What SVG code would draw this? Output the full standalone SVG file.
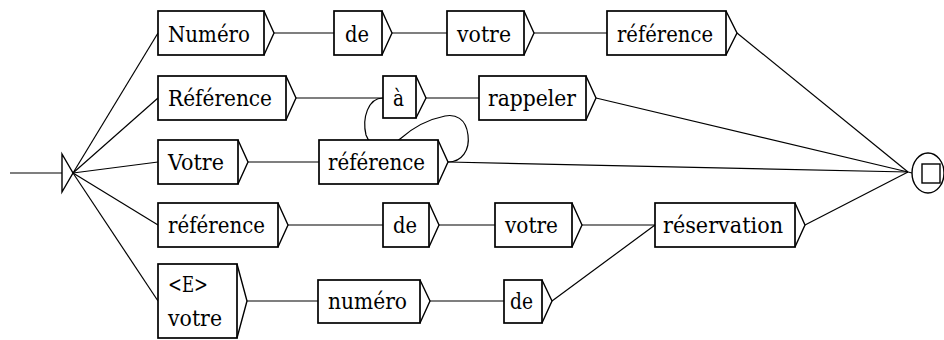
<svg xmlns="http://www.w3.org/2000/svg" width="944" height="340" viewBox="0 0 944 340">
<style>
.b{fill:#fff;stroke:#000;stroke-width:1.7}
.o{fill:none;stroke:#000;stroke-width:1.4}
.c{fill:none;stroke:#000;stroke-width:1.2}
text{font-family:"DejaVu Serif","Liberation Serif",serif;font-size:22px;fill:#000}
</style>
<rect width="944" height="340" fill="#fff"/>
<g id="connectors" class="c">
<line x1="10" y1="173" x2="62" y2="173"/>
<line x1="73" y1="173" x2="158" y2="33"/>
<line x1="73" y1="173" x2="158" y2="98"/>
<line x1="73" y1="173" x2="158" y2="162"/>
<line x1="73" y1="173" x2="158" y2="225"/>
<line x1="73" y1="173" x2="158" y2="301"/>
<line x1="274" y1="33" x2="334" y2="33"/>
<line x1="392" y1="33" x2="447" y2="33"/>
<line x1="534" y1="33" x2="607" y2="33"/>
<line x1="737" y1="33" x2="908" y2="172"/>
<line x1="296" y1="98" x2="383" y2="98"/>
<line x1="426" y1="98" x2="479" y2="98"/>
<line x1="596" y1="98" x2="908" y2="172"/>
<line x1="248" y1="162" x2="319" y2="162"/>
<line x1="448" y1="162" x2="908" y2="172"/>
<path d="M448,162 C462,162 470,150 468,135 C466,118 455,114 445,116 C425,120 410,130 400,139 C390,148 370,148 366,135 C362,118 368,98 383,98"/>
<line x1="288" y1="225" x2="383" y2="225"/>
<line x1="439" y1="225" x2="495" y2="225"/>
<line x1="582" y1="225" x2="655" y2="225"/>
<line x1="805" y1="225" x2="908" y2="172"/>
<line x1="247" y1="301" x2="318" y2="301"/>
<line x1="430" y1="301" x2="504" y2="301"/>
<line x1="552" y1="301" x2="655" y2="225"/>
<line x1="908" y1="172" x2="912" y2="173"/>
</g>
<g id="start"><polygon class="o" points="62,154 73,173 62,192"/></g>
<g id="final"><ellipse class="o" cx="928" cy="173" rx="16" ry="20"/><rect class="o" x="922" y="164" width="18" height="19"/></g>
<g id="n_numero1"><rect class="b" x="158" y="11" width="106" height="44"/><polyline class="o" points="264,11 274,33 264,55"/><text x="168" y="42" textLength="82" lengthAdjust="spacingAndGlyphs">Numéro</text></g>
<g id="n_de1"><rect class="b" x="334" y="11" width="48" height="44"/><polyline class="o" points="382,11 392,33 382,55"/><text x="345" y="42" textLength="24" lengthAdjust="spacingAndGlyphs">de</text></g>
<g id="n_votre1"><rect class="b" x="447" y="11" width="77" height="44"/><polyline class="o" points="524,11 534,33 524,55"/><text x="457" y="42" textLength="54" lengthAdjust="spacingAndGlyphs">votre</text></g>
<g id="n_reference1"><rect class="b" x="607" y="11" width="119" height="44"/><polyline class="o" points="726,11 737,33 726,55"/><text x="617" y="42" textLength="96" lengthAdjust="spacingAndGlyphs">référence</text></g>
<g id="n_Reference2"><rect class="b" x="158" y="76" width="128" height="44"/><polyline class="o" points="286,76 296,98 286,120"/><text x="168" y="106" textLength="104" lengthAdjust="spacingAndGlyphs">Référence</text></g>
<g id="n_a2"><rect class="b" x="383" y="76" width="33" height="42"/><polyline class="o" points="416,76 426,98 416,118"/><text x="393" y="106" textLength="11" lengthAdjust="spacingAndGlyphs">à</text></g>
<g id="n_rappeler2"><rect class="b" x="479" y="76" width="107" height="44"/><polyline class="o" points="586,76 596,98 586,120"/><text x="488" y="106" textLength="88" lengthAdjust="spacingAndGlyphs">rappeler</text></g>
<g id="n_Votre3"><rect class="b" x="158" y="140" width="80" height="44"/><polyline class="o" points="238,140 248,162 238,184"/><text x="168" y="170" textLength="56" lengthAdjust="spacingAndGlyphs">Votre</text></g>
<g id="n_reference3"><rect class="b" x="319" y="140" width="119" height="44"/><polyline class="o" points="438,140 448,162 438,184"/><text x="328" y="170" textLength="97" lengthAdjust="spacingAndGlyphs">référence</text></g>
<g id="n_reference4"><rect class="b" x="158" y="203" width="120" height="44"/><polyline class="o" points="278,203 288,225 278,247"/><text x="168" y="233" textLength="97" lengthAdjust="spacingAndGlyphs">référence</text></g>
<g id="n_de4"><rect class="b" x="383" y="203" width="46" height="44"/><polyline class="o" points="429,203 439,225 429,247"/><text x="393" y="233" textLength="24" lengthAdjust="spacingAndGlyphs">de</text></g>
<g id="n_votre4"><rect class="b" x="495" y="203" width="77" height="44"/><polyline class="o" points="572,203 582,225 572,247"/><text x="505" y="233" textLength="53" lengthAdjust="spacingAndGlyphs">votre</text></g>
<g id="n_reservation4"><rect class="b" x="655" y="203" width="140" height="44"/><polyline class="o" points="795,203 805,225 795,247"/><text x="663" y="233" textLength="120" lengthAdjust="spacingAndGlyphs">réservation</text></g>
<g id="n_E_votre5"><rect class="b" x="158" y="264" width="79" height="74"/><polyline class="o" points="237,264 247,301 237,338"/><text x="168" y="292" textLength="40" lengthAdjust="spacingAndGlyphs">&lt;E&gt;</text><text x="168" y="326" textLength="54" lengthAdjust="spacingAndGlyphs">votre</text></g>
<g id="n_numero5"><rect class="b" x="318" y="280" width="102" height="43"/><polyline class="o" points="420,280 430,301 420,323"/><text x="328" y="309" textLength="79" lengthAdjust="spacingAndGlyphs">numéro</text></g>
<g id="n_de5"><rect class="b" x="504" y="280" width="38" height="43"/><polyline class="o" points="542,280 552,301 542,323"/><text x="510" y="309" textLength="23" lengthAdjust="spacingAndGlyphs">de</text></g>
</svg>
